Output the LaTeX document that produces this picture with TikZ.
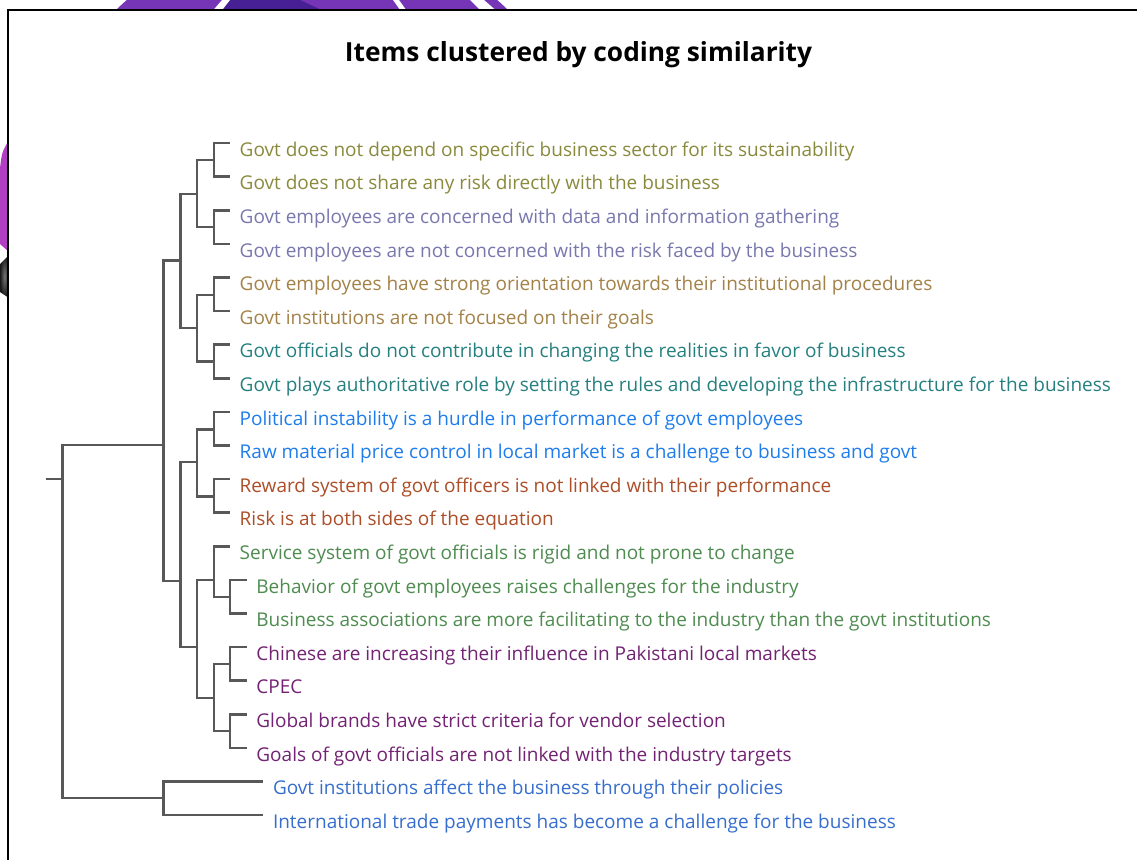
\documentclass[tikz,border=0pt]{standalone}
\usepackage{fontspec}
\setmainfont{Open Sans}
\usetikzlibrary{calc}

% label colours of the clusters
\definecolor{olivec}{RGB}{138,138,62}
\definecolor{slatec}{RGB}{120,120,175}
\definecolor{tanc}{RGB}{163,130,72}
\definecolor{tealc}{RGB}{38,128,128}
\definecolor{skyc}{RGB}{30,125,235}
\definecolor{rustc}{RGB}{172,78,40}
\definecolor{greenc}{RGB}{78,140,80}
\definecolor{plumc}{RGB}{115,35,115}
\definecolor{royalc}{RGB}{55,110,205}
\definecolor{branchc}{RGB}{88,88,88}
\definecolor{decoA}{RGB}{118,52,182}
\definecolor{decoB}{RGB}{72,32,150}
\definecolor{decoC}{RGB}{178,62,196}

\tikzset{
  branch/.style={draw=branchc, line width=2.6pt},
  leaflabel/.style={anchor=base west, inner sep=0pt, font=\fontsize{19}{22}\selectfont},
  titletext/.style={anchor=base, font=\fontsize{26.3}{30}\selectfont\bfseries, inner sep=0pt},
  panelframe/.style={draw=black, line width=2pt},
}

\begin{document}
\begin{tikzpicture}[x=1pt,y=-1pt]
\useasboundingbox (0,0) rectangle (1137,859);
\fill[white] (0,0) rectangle (1137,859);

% backdrop shapes behind the panel
\begin{scope}
  \clip (0,0) rectangle (1137,859);
  \fill[decoA] (312,210) circle[radius=280];
  \fill[decoB] (228,0) -- (300,0) -- (330,14) -- (217,14) -- cycle;
  \fill[white] (210,14) -- (222,0) -- (230,0) -- (219,14) -- cycle;
  \fill[white] (393,0) -- (399,0) -- (409,14) -- (403,14) -- cycle;
  \fill[white] (470,0) -- (484,0) -- (500,14) -- (484,14) -- cycle;
  \fill[decoC] (0,168) .. controls (2,152) .. (9,140) -- (9,252) -- (0,244) -- cycle;
  \shade[inner color=black!55, outer color=black!90] (0,264) -- (9,255) -- (9,298) -- (0,292) -- cycle;
\end{scope}

% panel
\fill[white] (7.5,10.5) rectangle (1140,862);
\draw[panelframe] (7.5,862) -- (7.5,10.5) -- (1140,10.5);

\node[titletext] (title) at (578.5,62) {Items clustered by coding similarity};

% leaf tick ends
\foreach \i/\x in {1/230,2/230,3/230,4/230,5/230,6/230,7/230,8/230,9/230,10/230,11/230,12/230,13/230,
                   14/246.7,15/246.7,16/246.7,17/246.7,18/246.7,19/246.7,20/263.3,21/263.3}
  \coordinate (l\i) at (\x,{143+33.6*(\i-1)});

% leaf labels
\foreach \i/\c/\t in {
  1/olivec/{Govt does not depend on specific business sector for its sustainability},
  2/olivec/{Govt does not share any risk directly with the business},
  3/slatec/{Govt employees are concerned with data and information gathering},
  4/slatec/{Govt employees are not concerned with the risk faced by the business},
  5/tanc/{Govt employees have strong orientation towards their institutional procedures},
  6/tanc/{Govt institutions are not focused on their goals},
  7/tealc/{Govt officials do not contribute in changing the realities in favor of business},
  8/tealc/{Govt plays authoritative role by setting the rules and developing the infrastructure for the business},
  9/skyc/{Political instability is a hurdle in performance of govt employees},
  10/skyc/{Raw material price control in local market is a challenge to business and govt},
  11/rustc/{Reward system of govt officers is not linked with their performance},
  12/rustc/{Risk is at both sides of the equation},
  13/greenc/{Service system of govt officials is rigid and not prone to change},
  14/greenc/{Behavior of govt employees raises challenges for the industry},
  15/greenc/{Business associations are more facilitating to the industry than the govt institutions},
  16/plumc/{Chinese are increasing their influence in Pakistani local markets},
  17/plumc/{CPEC},
  18/plumc/{Global brands have strict criteria for vendor selection},
  19/plumc/{Goals of govt officials are not linked with the industry targets},
  20/royalc/{Govt institutions affect the business through their policies},
  21/royalc/{International trade payments has become a challenge for the business}}
  \node[leaflabel, text=\c] (t\i) at ($(l\i)+(9.5,13.2)$) {\t};

% internal joins of the dendrogram
\coordinate (p1) at (214,160);
\coordinate (p2) at (214,227);
\coordinate (p3) at (214,295);
\coordinate (p4) at (214,361.5);
\coordinate (q1) at (197,194);
\coordinate (q2) at (197,328);
\coordinate (ca) at (180.5,260.7);
\coordinate (p5) at (214,429.5);
\coordinate (p6) at (214,496.5);
\coordinate (q3) at (197,462);
\coordinate (g1) at (230,597);
\coordinate (gg) at (214,580);
\coordinate (h1) at (230,664);
\coordinate (h2) at (230,731);
\coordinate (hh) at (214,698);
\coordinate (rr) at (197,647);
\coordinate (cb) at (180.5,581);
\coordinate (cc) at (163.3,445);
\coordinate (cd) at (163.3,798);
\coordinate (root) at (62.3,479);
\coordinate (stub) at (45.7,479);

% branches
\draw[branch] (stub) -- (root);
\foreach \a/\b in {root/cc, root/cd, cc/ca, cc/cb, ca/q1, ca/q2,
                   q1/p1, q1/p2, q2/p3, q2/p4,
                   p1/l1, p1/l2, p2/l3, p2/l4, p3/l5, p3/l6, p4/l7, p4/l8,
                   cb/q3, cb/rr, q3/p5, q3/p6, p5/l9, p5/l10, p6/l11, p6/l12,
                   rr/gg, rr/hh, gg/l13, gg/g1, g1/l14, g1/l15,
                   hh/h1, hh/h2, h1/l16, h1/l17, h2/l18, h2/l19,
                   cd/l20, cd/l21}
  \draw[branch] (\a) |- (\b);
\end{tikzpicture}
\end{document}
